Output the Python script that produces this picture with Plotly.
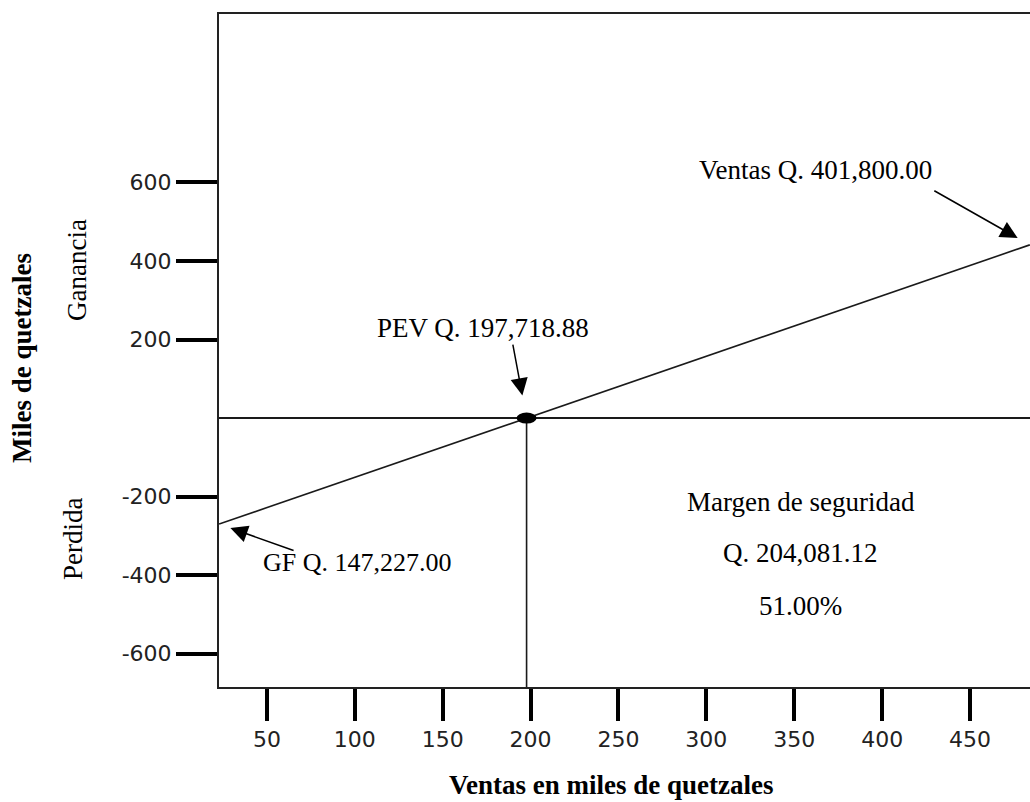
import plotly.graph_objects as go

# Cifras del análisis de punto de equilibrio (quetzales)
ventas_totales = 401800.00
punto_equilibrio = 197718.88
gastos_fijos = 147227.00
margen_pct = 51.00

pev_k = punto_equilibrio / 1000  # en miles de quetzales

# Recta de resultado: ventas (miles) contra ganancia/pérdida (miles)
ventas_eje = [22.8, pev_k, 484.0]
resultado = [-270, 0, 441]

# Marcas de los ejes
x_ticks = [50, 100, 150, 200, 250, 300, 350, 400, 450]
y_ticks = [-600, -400, -200, 200, 400, 600]

x_range = [22.75, 484.1]
y_range = [-685, 1029]

margen_seguridad = ventas_totales - punto_equilibrio

SERIF = "Liberation Serif, Times New Roman, serif"
SANS = "DejaVu Sans, Verdana, sans-serif"
INK = "#1a1a1a"

fig = go.Figure()

# Recta de ventas / resultado
fig.add_trace(go.Scatter(
    x=ventas_eje, y=resultado, mode="lines",
    line=dict(color=INK, width=1.6), hoverinfo="skip", showlegend=False,
))

# Línea vertical desde el punto de equilibrio hasta el eje de ventas
fig.add_trace(go.Scatter(
    x=[pev_k, pev_k], y=[0, y_range[0]], mode="lines",
    line=dict(color=INK, width=1.6), hoverinfo="skip", showlegend=False,
))

# Punto de equilibrio (elipse rellena)
fig.add_shape(
    type="circle", xref="x", yref="y",
    xsizemode="pixel", ysizemode="pixel",
    xanchor=pev_k, yanchor=0,
    x0=-10, x1=10, y0=-5.5, y1=5.5,
    fillcolor="black", line=dict(width=0), layer="above",
)

annotations = []

def texto(txt, x, y, size=27, angle=0):
    annotations.append(dict(
        text=txt, xref="paper", yref="paper", x=x, y=y,
        xanchor="center", yanchor="middle", showarrow=False,
        textangle=angle, font=dict(family=SERIF, size=size, color="black"),
    ))

def flecha(x, y, ax, ay, standoff):
    annotations.append(dict(
        text="", xref="x", yref="y", x=x, y=y, ax=ax, ay=ay,
        showarrow=True, arrowhead=2, arrowsize=2.3, arrowwidth=1.5,
        arrowcolor="black", standoff=standoff,
    ))

# Etiquetas con flecha
texto(f"PEV Q. {punto_equilibrio:,.2f}", 0.3255, 0.5334)
flecha(pev_k, 0, -14, -75, 23)

texto(f"Ventas Q. {ventas_totales:,.2f}", 0.7361, 0.7682)
flecha(ventas_eje[-1], resultado[-1], -97, -55, 14)

texto(f"GF Q. {gastos_fijos:,.2f}", 0.1708, 0.1857, size=26)
flecha(ventas_eje[0], resultado[0], 76, 27, 12)

# Margen de seguridad
texto("Margen de seguridad", 0.7176, 0.2749)
texto(f"Q. {margen_seguridad:,.2f}", 0.7176, 0.1991)
texto(f"{margen_pct:.2f}%", 0.7176, 0.1204)

# Títulos de los ejes y zonas
texto("<b>Ventas en miles de quetzales</b>", 0.4834, -0.1456)
texto("<b>Miles de quetzales</b>", -0.2429, 0.4889, angle=-90)
texto("Ganancia", -0.1751, 0.6196, angle=-90)
texto("Perdida", -0.1800, 0.2199, angle=-90)

fig.update_layout(
    width=1030, height=802,
    margin=dict(l=219, r=0, t=14, b=115, autoexpand=False),
    paper_bgcolor="white", plot_bgcolor="white",
    showlegend=False,
    annotations=annotations,
)

fig.update_xaxes(
    range=x_range, tickvals=x_ticks, ticktext=[str(v) for v in x_ticks],
    ticks="outside", ticklen=32, tickwidth=3.5, tickcolor="black",
    showline=True, linecolor="#222", linewidth=2, mirror=True,
    showgrid=False, zeroline=False,
    tickfont=dict(family=SANS, size=22, color="#222"),
    automargin=False,
)

fig.update_yaxes(
    range=y_range, tickvals=y_ticks, ticktext=[str(v) for v in y_ticks],
    ticks="outside", ticklen=41, tickwidth=3.5, tickcolor="black",
    showline=True, linecolor="#222", linewidth=2, mirror=False,
    showgrid=False, zeroline=True, zerolinecolor=INK, zerolinewidth=1.8,
    tickfont=dict(family=SANS, size=22, color="#222"),
    automargin=False,
)

fig.write_html("out.html")
